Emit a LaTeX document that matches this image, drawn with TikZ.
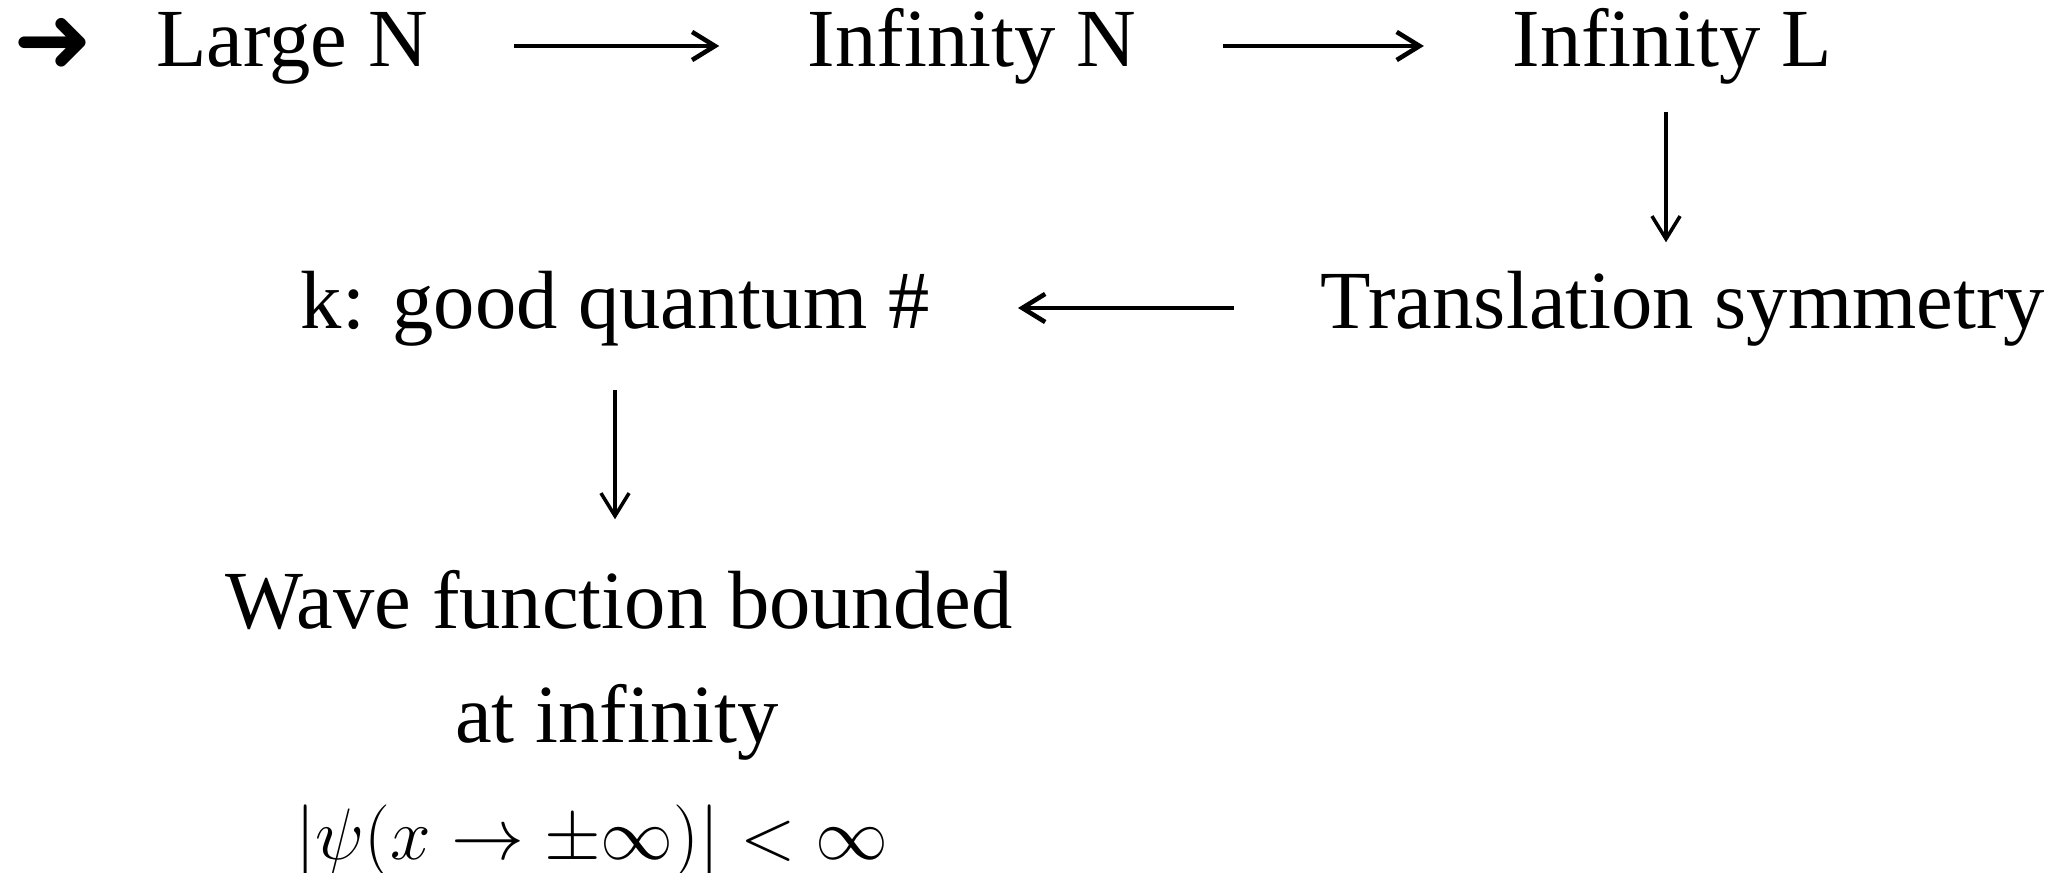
\documentclass[tikz,border=0pt]{standalone}
\usepackage{fontspec}
\setmainfont{Liberation Serif}
\newfontfamily\symfont{DejaVu Sans}
\usetikzlibrary{arrows.meta}

\begin{document}
\begin{tikzpicture}[>={Straight Barb[length=6.5pt,width=8pt]},
  txt/.style={inner sep=0pt, text height=0.56cm, text depth=0.14cm, anchor=base, font=\fontsize{23.5}{28}\selectfont},
  harr/.style={->, line width=1.3pt, shorten <=0.86cm, shorten >=0.88cm},
  varr/.style={->, line width=1pt}]
\useasboundingbox (0,0) rectangle (20.61,-8.73);
\node[inner sep=0pt, font=\symfont\fontsize{27}{30}\selectfont] (bul) at (0.53,-0.45) {➜};
\node[txt] (large) at (2.92,-0.67) {Large N};
\node[txt] (infN) at (9.72,-0.67) {Infinity N};
\node[txt] (infL) at (16.72,-0.67) {Infinity L};
\node[txt] (trans) at (16.83,-3.29) {Translation symmetry};
\node[txt] (kgood) at (6.15,-3.29) {k: good quantum \#};
\node[txt] (wave) at (6.19,-6.29) {Wave function bounded};
\node[txt] (winf) at (6.17,-7.43) {at infinity};
\node[inner sep=0pt, anchor=base, font=\fontsize{19.5}{24}\selectfont] (wmath) at (5.92,-8.6) {$|\psi(x\to\pm\infty)|<\infty$};
\draw[harr] (large) -- (infN);
\draw[harr] (infN) -- (infL);
\draw[varr, shorten <=0.3cm, shorten >=0.3cm] ([xshift=-0.06cm]infL.south) -- ([xshift=-0.06cm]infL.south |- trans.north);
\draw[harr] (trans) -- (kgood);
\draw[varr, shorten <=0.46cm, shorten >=0.53cm] (kgood.south) -- (kgood.south |- wave.north);
\end{tikzpicture}
\end{document}
